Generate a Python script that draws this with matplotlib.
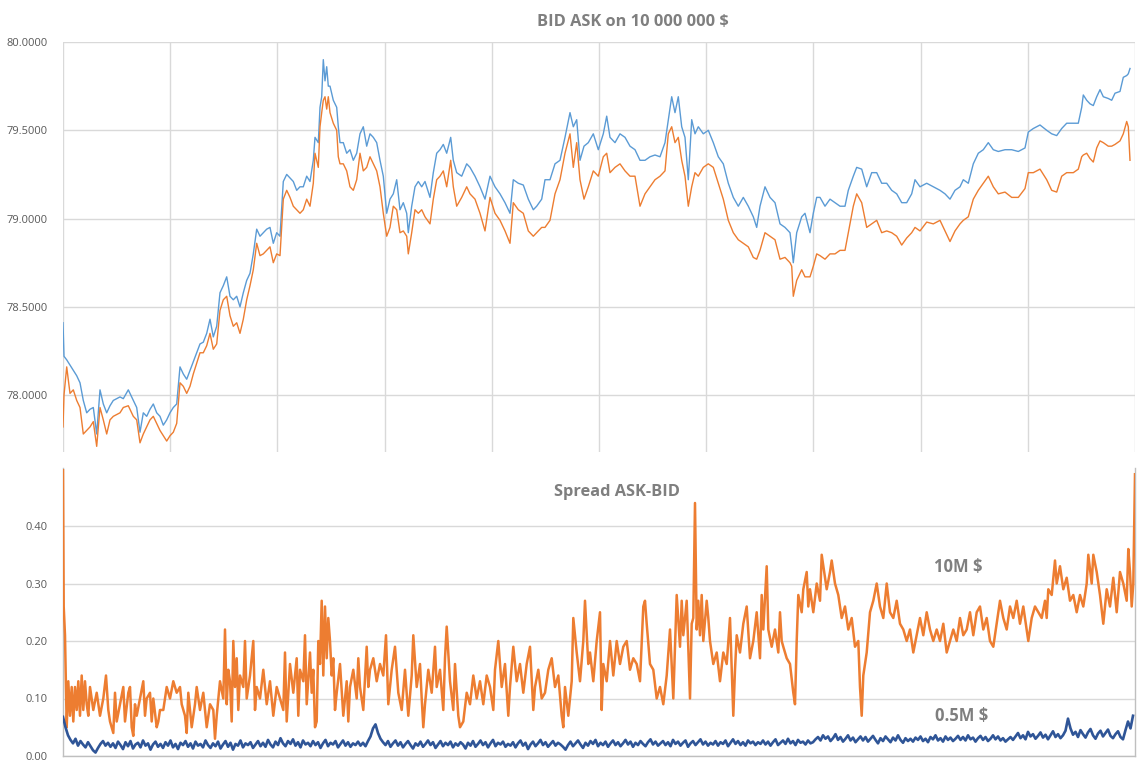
import matplotlib
matplotlib.use("Agg")
import matplotlib.pyplot as plt
from matplotlib.ticker import FixedLocator, FormatStrFormatter

plt.rcParams['font.family'] = ['Open Sans', 'DejaVu Sans']

# ---------------- top panel: BID / ASK on 10 000 000 $ ----------------
t_top = [0, 1, 3.7, 7, 10.3, 13.7, 17, 20.3, 23.7, 27, 30.3, 33.7, 37, 40.3, 43.7, 47, 50.3, 53.7, 57, 60.3,
         65.3,
         70.3, 73.7, 77, 80.3, 83.7, 87, 90.3, 93.7, 97, 100.3, 103.7, 107, 110.3, 113.7, 117, 120.3, 123.7, 127,
         130.3, 133.7, 137, 140.3, 143.7, 147, 150.3, 153.7, 157, 160.3, 163.7, 167, 170.3, 173.7, 177, 180.3,
         183.7, 187, 190.3, 193.7, 197, 200.3, 203.7, 207, 210.3, 213.7, 217, 220.3, 223.7, 227, 230.3, 233.7,
         237, 240.3, 243.7, 247, 250.3,
         252, 255.3, 257, 258.7, 260.3, 262, 263.7, 265.3, 267,
         270.3, 273.7, 275.3, 277, 280.3, 283.7, 287, 290.3, 293.7, 297, 300.3, 303.7, 307, 310.3, 313.7, 317,
         320.3, 323.7, 327, 330.3, 333.7, 337,
         340.3, 343.7, 345.3, 348.7, 352, 355.3, 358.7, 362, 367, 370.3,
         373.7, 377, 380.3, 383.7, 387.7, 390.3, 393.7, 398.7, 403.7, 407,
         412, 417, 422, 427, 432, 437, 442, 447, 450.3, 455.3,
         460.3, 465.3, 470.3, 473.7, 478.7, 482, 487, 492, 497, 502,
         507, 510.3, 513.7, 517, 521, 525.3, 530.3, 535.3, 540.3, 543.7,
         547, 552, 557, 562, 567, 572, 577, 582, 587, 592,
         597, 602, 605.3, 608.7, 612, 615.3, 618.7, 622, 625.3, 628.7,
         632, 635.3, 640.3, 645.3, 650.3, 655.3, 660.3, 665.3, 670.3, 675.3,
         680.3, 685.3, 690.3, 693.7, 697, 702, 707, 712, 717,
         722, 727, 728.7, 730.3, 733.7, 738.7, 742, 747, 750.3, 753.7,
         757, 762, 767, 772, 777, 782, 785.3, 790.3, 793.7, 798.7,
         803.7, 808.7, 813.7, 818.7, 823.7, 828.7, 833.7, 838.7, 843.7, 848.7,
         852, 857, 863.7, 870.3, 877, 882, 887, 892, 897, 900.3,
         905.3, 910.3, 915.3, 920.3, 925.3, 930.3, 935.3, 942, 948.7, 955.3,
         962, 965.3, 970.3, 977, 983.7, 988.7, 993.7, 998.7, 1003.7, 1010.3,
         1015.3, 1018.7, 1020.3, 1023.7, 1027, 1030.3, 1033.7, 1037, 1040.3, 1045.3,
         1048.7, 1052, 1057, 1060.3, 1063.7, 1065.3, 1067]

ask_10m = [78.41, 78.22, 78.20, 78.17, 78.14, 78.11, 78.07, 77.97, 77.90, 77.92, 77.93, 77.78, 78.03, 77.95, 77.90,
           77.94, 77.97, 77.98, 77.99, 77.98,
           78.03,
           77.97, 77.93, 77.79, 77.90, 77.88, 77.92, 77.95, 77.90, 77.88, 77.83, 77.86, 77.90, 77.93, 77.95, 78.16,
           78.12, 78.09, 78.14, 78.19, 78.24, 78.29, 78.30, 78.35, 78.43, 78.33, 78.39, 78.58, 78.62, 78.67, 78.56,
           78.54, 78.56, 78.50, 78.58, 78.65, 78.69, 78.80, 78.94, 78.90, 78.92, 78.94, 78.95, 78.86, 78.92, 78.90,
           79.21, 79.25, 79.23, 79.21, 79.16, 79.18, 79.18, 79.24, 79.21, 79.33,
           79.46, 79.43, 79.63, 79.69, 79.90, 79.78, 79.86, 79.75, 79.75,
           79.67, 79.63, 79.52, 79.43, 79.43, 79.37, 79.39, 79.33, 79.37, 79.48, 79.52, 79.41, 79.48, 79.46, 79.43,
           79.33, 79.24, 79.03, 79.11, 79.14, 79.22, 79.05,
           79.09, 79.03, 78.92, 79.07, 79.18, 79.21, 79.18, 79.21, 79.12, 79.26,
           79.37, 79.39, 79.42, 79.37, 79.46, 79.33, 79.26, 79.24, 79.31, 79.29,
           79.24, 79.18, 79.11, 79.24, 79.18, 79.14, 79.09, 79.03, 79.22, 79.20,
           79.19, 79.11, 79.05, 79.07, 79.11, 79.22, 79.22, 79.31, 79.33, 79.46,
           79.60, 79.52, 79.56, 79.33, 79.41, 79.43, 79.48, 79.39, 79.48, 79.58,
           79.46, 79.43, 79.48, 79.46, 79.41, 79.39, 79.33, 79.33, 79.35, 79.36,
           79.35, 79.43, 79.56, 79.69, 79.60, 79.69, 79.52, 79.46, 79.22, 79.56,
           79.48, 79.52, 79.48, 79.50, 79.43, 79.35, 79.31, 79.20, 79.12, 79.07,
           79.12, 79.07, 79.01, 78.95, 79.07, 79.18, 79.12, 79.09, 78.97,
           78.95, 78.92, 78.84, 78.75, 78.92, 79.01, 79.03, 78.92, 79.03, 79.12,
           79.12, 79.07, 79.11, 79.09, 79.07, 79.07, 79.16, 79.24, 79.29, 79.28,
           79.18, 79.26, 79.26, 79.20, 79.20, 79.16, 79.14, 79.09, 79.09, 79.14,
           79.22, 79.18, 79.20, 79.18, 79.16, 79.14, 79.11, 79.16, 79.18, 79.22,
           79.20, 79.31, 79.37, 79.39, 79.43, 79.39, 79.38, 79.39, 79.39, 79.38,
           79.40, 79.49, 79.51, 79.53, 79.50, 79.48, 79.47, 79.51, 79.54, 79.54,
           79.54, 79.63, 79.70, 79.67, 79.65, 79.64, 79.69, 79.73, 79.69, 79.68,
           79.67, 79.71, 79.72, 79.80, 79.81, 79.82, 79.85]

bid_10m = [77.82, 78.00, 78.16, 78.01, 78.03, 77.97, 77.93, 77.78, 77.80, 77.82, 77.85, 77.71, 77.93, 77.86, 77.78,
           77.86, 77.88, 77.89, 77.90, 77.93,
           77.94,
           77.88, 77.86, 77.73, 77.78, 77.82, 77.86, 77.88, 77.84, 77.80, 77.77, 77.74, 77.77, 77.79, 77.84, 78.07,
           78.05, 78.01, 78.05, 78.12, 78.18, 78.24, 78.24, 78.28, 78.35, 78.26, 78.29, 78.48, 78.54, 78.56, 78.45,
           78.39, 78.41, 78.35, 78.43, 78.54, 78.62, 78.71, 78.86, 78.79, 78.80, 78.82, 78.84, 78.75, 78.80, 78.79,
           79.11, 79.16, 79.12, 79.07, 79.05, 79.03, 79.05, 79.11, 79.07, 79.20,
           79.37, 79.29, 79.52, 79.60, 79.67, 79.69, 79.62, 79.69, 79.60,
           79.54, 79.50, 79.35, 79.31, 79.31, 79.27, 79.18, 79.16, 79.22, 79.37, 79.27, 79.29, 79.35, 79.31, 79.27,
           79.18, 79.03, 78.90, 78.95, 79.07, 79.05, 78.92,
           78.93, 78.90, 78.80, 78.92, 79.05, 79.03, 79.05, 79.01, 78.97, 79.11,
           79.22, 79.24, 79.27, 79.18, 79.33, 79.18, 79.07, 79.12, 79.18, 79.14,
           79.11, 79.03, 78.93, 79.12, 79.03, 78.99, 78.93, 78.86, 79.09, 79.05,
           79.03, 78.93, 78.90, 78.92, 78.95, 78.95, 78.99, 79.14, 79.22, 79.37,
           79.48, 79.29, 79.43, 79.22, 79.11, 79.18, 79.27, 79.24, 79.35, 79.37,
           79.26, 79.29, 79.31, 79.27, 79.24, 79.24, 79.07, 79.14, 79.18, 79.22,
           79.24, 79.27, 79.48, 79.52, 79.43, 79.46, 79.33, 79.24, 79.07, 79.18,
           79.26, 79.24, 79.29, 79.31, 79.29, 79.20, 79.11, 78.99, 78.92, 78.88,
           78.86, 78.84, 78.78, 78.77, 78.82, 78.92, 78.90, 78.88, 78.77,
           78.78, 78.75, 78.73, 78.56, 78.65, 78.71, 78.67, 78.67, 78.73, 78.80,
           78.79, 78.77, 78.80, 78.80, 78.82, 78.82, 78.92, 79.07, 79.14, 79.09,
           78.95, 78.97, 78.99, 78.92, 78.93, 78.92, 78.90, 78.85, 78.89, 78.92,
           78.95, 78.93, 78.98, 78.97, 78.99, 78.93, 78.87, 78.93, 78.97, 78.99,
           79.01, 79.11, 79.16, 79.20, 79.24, 79.18, 79.14, 79.15, 79.12, 79.12,
           79.17, 79.26, 79.26, 79.28, 79.22, 79.16, 79.15, 79.24, 79.26, 79.26,
           79.28, 79.35, 79.36, 79.37, 79.34, 79.32, 79.40, 79.44, 79.43, 79.41,
           79.41, 79.42, 79.44, 79.48, 79.55, 79.52, 79.33]

# ---------------- bottom panel: spread ASK-BID ----------------
t_spread_10m = [0, 0.7, 2, 3.7, 5.3, 7, 8.7, 10.3, 12, 13.7, 15.3, 17, 18.7, 20.3, 22, 23.7, 25.3, 27, 30.3, 33.7,
                37, 40.3, 43, 45.3, 47, 50.3, 52, 53.7, 57, 60.3, 62, 65.3, 67, 68.7, 70.3, 72, 73.7, 77, 80.3, 82,
                83.7, 87, 88.7, 90.3, 93.7, 95.3, 97, 100.3, 103.7, 107, 110.3, 113.7, 117, 118.7, 122, 123.7, 125.3,
                128.7, 132, 133.7, 137, 140.3, 143.7, 147, 150.3, 152, 153.7, 157, 160.3, 162, 163.7, 165.3, 167,
                168.7, 170.3, 172, 173.7, 175.3, 177, 180.3, 182, 183.7, 187, 190.3, 192, 193.7, 197, 200.3, 203.7,
                207, 210.3, 213.7, 217, 220.3, 222, 223.7, 227, 230.3, 233.7, 235.3, 237, 240.3, 242, 243.7, 247,
                248.7, 250.3, 252, 253.7, 255.3, 257, 258.7, 260.3, 262, 263.7, 265.3, 267, 268.7, 270.3, 272, 273.7,
                277, 280.3, 283.7, 285.3, 287, 290.3, 293.7, 295.3, 297, 300.3, 303.7, 305.3, 307, 310.3, 313.7, 317,
                320.3, 323, 325.3,
                328.7, 332, 335.3, 338.7, 342, 345.3, 348.7, 350.3, 353.7, 357, 358.7, 360.3, 362, 365.3, 368.7, 372,
                373.7, 377, 380.3, 382, 383.7, 387, 390.3, 392, 395.3, 397, 400.3, 403.7, 407, 410.3, 413.7, 417,
                420.3, 423.7, 427, 430.3, 432, 435.3, 438.7, 442, 445.3, 447, 450.3, 453.7, 457, 460.3, 463.7, 467,
                470.3, 472, 475.3, 478.7, 482, 485.3, 488.7, 492, 495.3, 498.7, 500.3, 502, 505.3, 508.7, 510.3,
                513.7, 517, 520.3, 522, 525.3, 527, 530.3, 533.7, 537, 538.7, 540.3, 543.7, 547, 550.3, 553.7, 557,
                560.3, 563.7, 567, 570.3, 573.7, 577, 580.3, 582, 583.7, 587, 590.3, 593.7, 597, 600.3, 603.7, 607,
                610.3, 613.7, 617, 618.7, 620.3, 623.7, 627, 628.7, 630.3, 632, 633.7, 635.3, 637, 638.7, 640.3,
                643.7, 645.3, 647, 650.3, 653.7, 657, 660.3, 663.7, 667, 668.7, 670.3, 672, 673.7, 677, 680.3, 683.7,
                687, 690.3, 693.7, 697,
                698.7, 700.3, 703.7, 705.3, 708.7, 712, 715.3, 717, 718.7, 720.3, 723.7, 727, 730.3, 732, 733.7,
                735.3, 738.7, 740.3, 743.7, 745.3, 747, 750.3, 753.7, 757, 758.7, 762, 763.7, 767, 768.7, 772, 775.3,
                778.7, 782, 785.3, 788.7, 792, 795.3, 797, 798.7, 800.3, 803.7, 807, 810.3, 813.7, 817, 820.3, 823.7,
                827, 830.3, 833.7, 837, 840.3, 843.7, 847, 850.3, 853.7, 857, 860.3, 863.7, 867, 870.3, 873.7, 877,
                880.3, 883.7, 887, 890.3, 893.7, 897, 900.3, 903.7, 907, 910.3, 913.7, 917, 920.3, 923.7, 927, 930.3,
                933.7, 937, 940.3, 943.7, 947, 950.3, 953.7, 957, 960.3, 963.7, 965.3, 968.7, 972, 975.3, 978.7, 982,
                983.7, 985.3, 988.7, 992, 993.7, 997, 1000.3, 1003.7, 1007, 1010.3, 1013.7, 1017, 1020.3, 1023.7,
                1025.3, 1028.7, 1030.3, 1033.7, 1037, 1040.3, 1043.7, 1047, 1050.3, 1053.7, 1057, 1060.3, 1063.7,
                1065.3, 1067, 1068.7, 1070.3, 1072]

spread_10m = [0.50, 0.26, 0.21, 0.05, 0.13, 0.07, 0.12, 0.06, 0.12, 0.08, 0.13, 0.07, 0.14, 0.08, 0.13, 0.09, 0.07,
              0.12, 0.08, 0.11, 0.07, 0.10, 0.14, 0.08, 0.06, 0.04, 0.11, 0.06, 0.09, 0.12, 0.06, 0.11, 0.12, 0.05,
              0.035, 0.09, 0.07, 0.10, 0.13, 0.07, 0.10, 0.11, 0.06, 0.10, 0.05, 0.06, 0.08, 0.08, 0.12, 0.10, 0.13,
              0.11, 0.12, 0.09, 0.07, 0.04, 0.11, 0.05, 0.09, 0.12, 0.08, 0.11, 0.05, 0.09, 0.08, 0.03, 0.07, 0.13,
              0.10, 0.22, 0.09, 0.15, 0.13, 0.06, 0.20, 0.12, 0.17, 0.08, 0.14, 0.12, 0.20, 0.10, 0.14, 0.20, 0.08,
              0.12, 0.10, 0.15, 0.09, 0.13, 0.07, 0.12, 0.10, 0.08, 0.18, 0.06, 0.16, 0.11, 0.17, 0.07, 0.15, 0.13,
              0.21, 0.09, 0.18, 0.11, 0.15, 0.05, 0.06, 0.20, 0.16, 0.27, 0.14, 0.26, 0.17, 0.24, 0.20, 0.14, 0.17,
              0.08, 0.11, 0.16, 0.07, 0.13, 0.06, 0.12, 0.15, 0.10, 0.17, 0.12, 0.08, 0.19, 0.12, 0.15, 0.17, 0.13,
              0.16, 0.14, 0.21, 0.09,
              0.15, 0.19, 0.11, 0.08, 0.15, 0.07, 0.14, 0.21, 0.12, 0.16, 0.10, 0.05, 0.09, 0.15, 0.11, 0.19,
              0.12, 0.15, 0.08, 0.17, 0.225, 0.13, 0.08, 0.16, 0.07, 0.05, 0.06, 0.11, 0.09, 0.14, 0.10, 0.13,
              0.09, 0.14, 0.12, 0.08, 0.15, 0.20, 0.12, 0.16, 0.07, 0.12, 0.19, 0.13, 0.16, 0.11, 0.16, 0.19,
              0.08, 0.12, 0.15, 0.10, 0.11, 0.15, 0.17, 0.12, 0.14, 0.07, 0.05, 0.12, 0.07, 0.13, 0.24,
              0.18, 0.13, 0.20, 0.27, 0.16, 0.18, 0.13, 0.20, 0.25, 0.08, 0.16, 0.13, 0.20, 0.14, 0.20, 0.16,
              0.19, 0.20, 0.15, 0.17, 0.16, 0.13, 0.26, 0.27, 0.23, 0.16, 0.15, 0.10, 0.12, 0.09, 0.14, 0.22,
              0.10, 0.28, 0.19, 0.27, 0.21, 0.27, 0.10, 0.23, 0.24, 0.44, 0.22, 0.27, 0.21, 0.28, 0.20,
              0.27, 0.24, 0.20, 0.16, 0.18, 0.13, 0.18, 0.16, 0.24, 0.15, 0.07, 0.15, 0.21, 0.18, 0.23, 0.26,
              0.17, 0.20, 0.25, 0.17,
              0.28, 0.22, 0.33, 0.22, 0.19, 0.22, 0.18, 0.25, 0.20, 0.19, 0.17, 0.16, 0.11, 0.09, 0.20,
              0.28, 0.25, 0.29, 0.32, 0.26, 0.29, 0.25, 0.30, 0.27, 0.35, 0.31, 0.29, 0.32, 0.34, 0.30, 0.28,
              0.24, 0.26, 0.22, 0.24, 0.19, 0.20, 0.12, 0.07, 0.14, 0.18, 0.25, 0.27, 0.30, 0.26, 0.24, 0.30,
              0.25, 0.24, 0.27, 0.23, 0.22, 0.20, 0.22, 0.18, 0.21, 0.24, 0.21, 0.25, 0.22, 0.20, 0.22, 0.20,
              0.23, 0.18, 0.20, 0.22, 0.20, 0.24, 0.21, 0.22, 0.25, 0.21, 0.25, 0.26, 0.22, 0.24, 0.20, 0.19,
              0.23, 0.27, 0.24, 0.22, 0.26, 0.24, 0.27, 0.23, 0.26, 0.22, 0.20, 0.24, 0.26, 0.25, 0.24, 0.27,
              0.24, 0.29, 0.28, 0.34, 0.30, 0.33, 0.29, 0.31, 0.27, 0.28, 0.25, 0.28, 0.26, 0.30,
              0.35, 0.30, 0.35, 0.32, 0.28, 0.23, 0.29, 0.26, 0.31, 0.25, 0.32, 0.30, 0.27,
              0.36, 0.32, 0.26, 0.30, 0.49]

# 0.5M $ spread, one reading every 2.5 time units from t = 0
spread_05m = [0.068, 0.050, 0.036, 0.028, 0.022, 0.030, 0.018, 0.026, 0.020, 0.015, 0.024, 0.017, 0.010, 0.006, 0.014, 0.021, 0.026, 0.018, 0.023, 0.016,
              0.022, 0.014, 0.025, 0.019, 0.012, 0.024, 0.017, 0.026, 0.013, 0.020, 0.023, 0.015, 0.027, 0.018, 0.022, 0.011, 0.020, 0.025, 0.016, 0.021,
              0.014, 0.024, 0.018, 0.027, 0.015, 0.021, 0.012, 0.023, 0.019, 0.026, 0.016, 0.022, 0.013, 0.025, 0.018, 0.021, 0.015, 0.027, 0.019, 0.014,
              0.022, 0.017, 0.025, 0.013, 0.020, 0.026, 0.016, 0.023, 0.011, 0.021, 0.018, 0.027, 0.015, 0.022, 0.019, 0.024, 0.014, 0.020, 0.026, 0.017,
              0.023, 0.016, 0.028, 0.020, 0.015, 0.025, 0.019, 0.031, 0.022, 0.017, 0.026, 0.021, 0.029, 0.018, 0.024, 0.015, 0.027, 0.020, 0.023, 0.017,
              0.026, 0.019, 0.024, 0.014, 0.022, 0.028, 0.017, 0.023, 0.020, 0.026, 0.015, 0.021, 0.027, 0.018, 0.024, 0.016, 0.022, 0.019, 0.025, 0.018,
              0.023, 0.017, 0.026, 0.034, 0.048, 0.055, 0.040, 0.030, 0.024, 0.019, 0.026, 0.016, 0.022, 0.027, 0.018, 0.024, 0.015, 0.021, 0.026, 0.019,
              0.013, 0.022, 0.018, 0.025, 0.016, 0.021, 0.027, 0.019, 0.024, 0.014, 0.020, 0.026, 0.017, 0.023, 0.019, 0.025, 0.015, 0.022, 0.018, 0.024,
              0.020, 0.013, 0.023, 0.018, 0.026, 0.016, 0.021, 0.027, 0.019, 0.024, 0.015, 0.022, 0.028, 0.017, 0.023, 0.020, 0.025, 0.016, 0.021, 0.018,
              0.024, 0.015, 0.022, 0.027, 0.018, 0.023, 0.012, 0.020, 0.025, 0.017, 0.022, 0.028, 0.019, 0.024, 0.016, 0.021, 0.026, 0.018, 0.023, 0.020,
              0.016, 0.011, 0.019, 0.025, 0.017, 0.022, 0.027, 0.020, 0.014, 0.023, 0.018, 0.026, 0.021, 0.028, 0.017, 0.023, 0.019, 0.025, 0.016, 0.022,
              0.027, 0.019, 0.024, 0.017, 0.022, 0.028, 0.020, 0.025, 0.016, 0.023, 0.019, 0.026, 0.021, 0.017, 0.024, 0.029, 0.020, 0.025, 0.018, 0.022,
              0.026, 0.019, 0.024, 0.017, 0.028, 0.021, 0.025, 0.018, 0.023, 0.027, 0.016, 0.022, 0.026, 0.019, 0.024, 0.029, 0.020, 0.025, 0.018, 0.023,
              0.020, 0.026, 0.018, 0.024, 0.021, 0.027, 0.017, 0.023, 0.029, 0.021, 0.026, 0.019, 0.024, 0.018, 0.027, 0.022, 0.025, 0.019, 0.024, 0.021,
              0.027, 0.020, 0.025, 0.018, 0.024, 0.029, 0.019, 0.023, 0.027, 0.021, 0.030, 0.022, 0.026, 0.019, 0.028, 0.023, 0.025, 0.020, 0.027, 0.022,
              0.024, 0.029, 0.033, 0.027, 0.036, 0.030, 0.034, 0.026, 0.031, 0.038, 0.028, 0.033, 0.025, 0.030, 0.036, 0.027, 0.032, 0.024, 0.029, 0.034,
              0.027, 0.033, 0.025, 0.030, 0.035, 0.028, 0.022, 0.031, 0.026, 0.034, 0.029, 0.024, 0.032, 0.027, 0.036, 0.028, 0.023, 0.031, 0.026, 0.030,
              0.025, 0.032, 0.028, 0.034, 0.026, 0.030, 0.024, 0.033, 0.029, 0.036, 0.027, 0.031, 0.025, 0.034, 0.028, 0.032, 0.026, 0.030, 0.035, 0.028,
              0.033, 0.027, 0.036, 0.029, 0.032, 0.025, 0.031, 0.035, 0.028, 0.033, 0.026, 0.030, 0.036, 0.029, 0.034, 0.027, 0.031, 0.025, 0.029, 0.033,
              0.028, 0.034, 0.040, 0.031, 0.036, 0.029, 0.042, 0.034, 0.038, 0.030, 0.035, 0.041, 0.032, 0.037, 0.029, 0.036, 0.043, 0.033, 0.038, 0.031,
              0.036, 0.044, 0.065, 0.048, 0.037, 0.042, 0.033, 0.045, 0.038, 0.032, 0.041, 0.047, 0.036, 0.030, 0.039, 0.044, 0.034, 0.040, 0.046, 0.035,
              0.031, 0.038, 0.043, 0.033, 0.029, 0.045, 0.060, 0.048, 0.070]
t_spread_05m = [2.5 * i for i in range(len(spread_05m))]

top_ticks = [78.0, 78.5, 79.0, 79.5, 80.0]
bottom_ticks = [0.0, 0.1, 0.2, 0.3, 0.4]

assert len(t_top) == len(ask_10m) == len(bid_10m), (len(t_top), len(ask_10m), len(bid_10m))
assert len(t_spread_10m) == len(spread_10m), (len(t_spread_10m), len(spread_10m))

# ---------------- styles ----------------
C_ASK = '#5B9BD5'
C_BID = '#ED7D31'
C_05M = '#2F5597'
C_GRID = '#D9D9D9'
C_TICK = '#595959'
C_TITLE = '#7F7F7F'

W, H = 1147, 766
fig = plt.figure(figsize=(W / 100, H / 100), dpi=100)
fig.patch.set_facecolor('white')

T_MAX = 1072
x_grid = [T_MAX * k / 10 for k in range(11)]

# top axes
ax1 = fig.add_axes([63 / W, 1 - 452 / H, 1072 / W, (452 - 42) / H])
ax1.plot(t_top, ask_10m, color=C_ASK, lw=1.0, zorder=3)
ax1.plot(t_top, bid_10m, color=C_BID, lw=1.0, zorder=3)
ax1.set_xlim(0, T_MAX)
ax1.set_ylim(77.678, 80.0)
ax1.yaxis.set_major_locator(FixedLocator(top_ticks))
ax1.yaxis.set_major_formatter(FormatStrFormatter('%.4f'))
ax1.xaxis.set_major_locator(FixedLocator(x_grid))
ax1.grid(True, color=C_GRID, lw=1.0)
ax1.set_axisbelow(True)
for s in ax1.spines.values():
    s.set_visible(False)
ax1.tick_params(axis='both', length=0, labelsize=8, labelcolor=C_TICK, pad=11)
ax1.tick_params(axis='x', labelbottom=False)

# bottom axes
ax2 = fig.add_axes([63 / W, 1 - 756 / H, 1072 / W, (756 - 468.5) / H])
ax2.plot(t_spread_10m, spread_10m, color=C_BID, lw=1.8, zorder=3)
ax2.plot(t_spread_05m, spread_05m, color=C_05M, lw=1.9, zorder=4)
ax2.set_xlim(0, T_MAX)
ax2.set_ylim(0, 0.5)
ax2.yaxis.set_major_locator(FixedLocator(bottom_ticks))
ax2.yaxis.set_major_formatter(FormatStrFormatter('%.2f'))
ax2.set_xticks([])
ax2.yaxis.grid(True, color=C_GRID, lw=1.0)
ax2.set_axisbelow(True)
ax2.spines['top'].set_visible(False)
for side in ['left', 'right', 'bottom']:
    ax2.spines[side].set_color('#BFBFBF')
    ax2.spines[side].set_linewidth(1.0)
ax2.tick_params(axis='y', length=0, labelsize=8, labelcolor=C_TICK, pad=11)

# texts
fig.text(633 / W, 1 - 22 / H, 'BID ASK on 10 000 000 $', ha='center', va='center',
         fontsize=11.8, fontweight='bold', color=C_TITLE)
fig.text(617 / W, 1 - 492 / H, 'Spread ASK-BID', ha='center', va='center',
         fontsize=11.8, fontweight='bold', color=C_TITLE)
fig.text(958 / W, 1 - 567 / H, '10M $', ha='center', va='center',
         fontsize=12, fontweight='bold', color=C_TITLE)
fig.text(962 / W, 1 - 716 / H, '0.5M $', ha='center', va='center',
         fontsize=12, fontweight='bold', color=C_TITLE)

fig.savefig('out.png', dpi=100, facecolor='white')
